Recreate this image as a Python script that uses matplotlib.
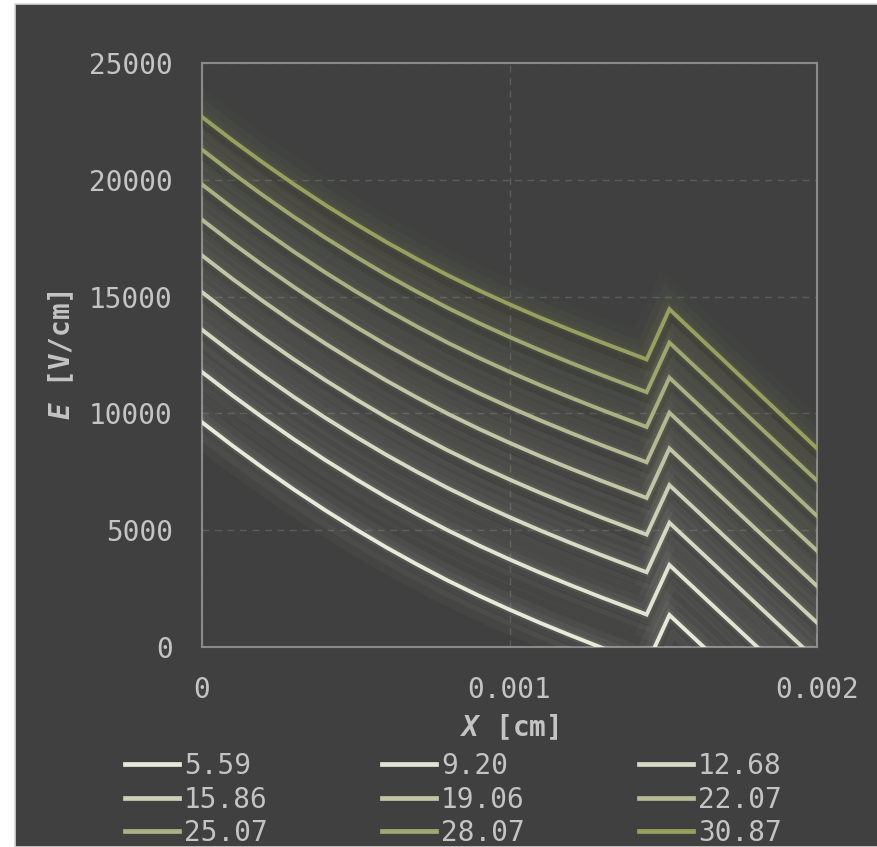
import matplotlib
matplotlib.use("Agg")
import matplotlib.pyplot as plt
import matplotlib.patheffects as pe
from matplotlib.patches import Rectangle

# field profiles E(x), one list per label
x_cm = [0, 0.0001, 0.0002, 0.0003, 0.0004, 0.0005, 0.0006, 0.0007, 0.0008,
        0.0009, 0.0010, 0.0011, 0.0012, 0.0013, 0.0014, 0.001446, 0.00152, 0.002]

labels = ["5.59", "9.20", "12.68", "15.86", "19.06", "22.07", "25.07", "28.07", "30.87"]

e_5_59 = [9620, 8610, 7650, 6730, 5860, 5040, 4260, 3530, 2840,
          2200, 1600, 1030, 490, -30, -530, -760, 1370, -4530]
e_9_20 = [11770, 10760, 9800, 8880, 8010, 7190, 6410, 5680, 4990,
          4350, 3750, 3180, 2640, 2120, 1620, 1390, 3510, -2390]
e_12_68 = [13580, 12570, 11610, 10690, 9820, 9000, 8220, 7490, 6800,
           6160, 5560, 4990, 4450, 3930, 3430, 3200, 5320, -580]
e_15_86 = [15190, 14180, 13220, 12300, 11430, 10610, 9830, 9100, 8410,
           7770, 7170, 6600, 6060, 5540, 5040, 4810, 6930, 1040]
e_19_06 = [16760, 15750, 14790, 13870, 13000, 12180, 11400, 10670, 9980,
           9340, 8740, 8170, 7630, 7110, 6610, 6380, 8500, 2610]
e_22_07 = [18290, 17280, 16320, 15400, 14530, 13710, 12930, 12200, 11510,
           10870, 10270, 9700, 9160, 8640, 8140, 7910, 10030, 4120]
e_25_07 = [19800, 18790, 17830, 16910, 16040, 15220, 14440, 13710, 13020,
           12380, 11780, 11210, 10670, 10150, 9650, 9420, 11530, 5610]
e_28_07 = [21290, 20280, 19320, 18400, 17530, 16710, 15930, 15200, 14510,
           13870, 13270, 12700, 12160, 11640, 11140, 10910, 13030, 7120]
e_30_87 = [22690, 21680, 20720, 19800, 18930, 18110, 17330, 16600, 15910,
           15270, 14670, 14100, 13560, 13040, 12540, 12310, 14460, 8500]

series = [e_5_59, e_9_20, e_12_68, e_15_86, e_19_06,
          e_22_07, e_25_07, e_28_07, e_30_87]

colors = ["#e8eadc", "#e2e5d3", "#d7dac4", "#cdd1b6", "#c2c6a6",
          "#b6bb95", "#aab184", "#a0a872", "#98a060"]

BG = "#404040"
TXT = "#c4c4c4"
FONT = "DejaVu Sans Mono"

plt.rcParams["font.family"] = [FONT]
plt.rcParams["mathtext.fontset"] = "custom"
plt.rcParams["mathtext.it"] = "DejaVu Sans Mono:italic:bold"
plt.rcParams["mathtext.rm"] = "DejaVu Sans Mono:bold"
plt.rcParams["mathtext.bf"] = "DejaVu Sans Mono:bold"

fig = plt.figure(figsize=(8.77, 8.47), dpi=100, facecolor="white")
fig.patches.append(Rectangle((15 / 877, 0), 1, 1 - 4 / 847, transform=fig.transFigure,
                             facecolor=BG, edgecolor="#d8d8d8", linewidth=1.2, zorder=-10))

ax = fig.add_axes([202 / 877, 1 - 647 / 847, 615 / 877, 584 / 847])
ax.set_facecolor(BG)

handles = []
for vals, lab, c in zip(series, labels, colors):
    effects = [
        pe.Stroke(linewidth=34, foreground=c, alpha=0.03),
        pe.Stroke(linewidth=22, foreground=c, alpha=0.045),
        pe.Stroke(linewidth=13, foreground=c, alpha=0.05),
        pe.SimpleLineShadow(offset=(1, -5), shadow_color="black", alpha=0.12, linewidth=6),
        pe.Stroke(linewidth=6, foreground=c, alpha=0.08),
        pe.Normal(),
    ]
    ax.plot(x_cm, vals, color=c, lw=2.8, path_effects=effects,
            solid_joinstyle="miter", zorder=3)
    h, = ax.plot([], [], color=c, lw=3.4, label=lab)
    handles.append(h)

ax.set_xlim(0, 0.002)
ax.set_ylim(0, 25000)
ax.set_xticks([0, 0.001, 0.002])
ax.set_xticklabels(["0", "0.001", "0.002"])
ax.set_yticks([0, 5000, 10000, 15000, 20000, 25000])
ax.tick_params(length=0, pad=21, labelsize=20, labelcolor=TXT)

ax.grid(True, color="#5c5c5c", linestyle=(0, (5, 4)), linewidth=1.0, zorder=0)
ax.set_axisbelow(True)
for s in ax.spines.values():
    s.set_color("#8a8a8a")
    s.set_linewidth(1.5)

ax.set_xlabel(r"$X$ [cm]", fontsize=20, color=TXT, fontweight="bold")
ax.xaxis.set_label_coords(0.5, -0.112)
ax.set_ylabel(r"$E$ [V/cm]", fontsize=20, color=TXT, fontweight="bold")
ax.yaxis.set_label_coords(-0.205, 0.5)

# legend is filled row by row in the reference
order = [0, 3, 6, 1, 4, 7, 2, 5, 8]
leg = fig.legend([handles[i] for i in order], [labels[i] for i in order],
                 ncol=3, loc="upper left", bbox_to_anchor=(125 / 877, 1 - 752 / 847),
                 frameon=False, fontsize=20, handlelength=1.95, handletextpad=0.18,
                 columnspacing=4.1, labelspacing=0.2, borderpad=0, borderaxespad=0)
for t in leg.get_texts():
    t.set_color(TXT)

fig.savefig("out.png", dpi=100, facecolor=fig.get_facecolor())
